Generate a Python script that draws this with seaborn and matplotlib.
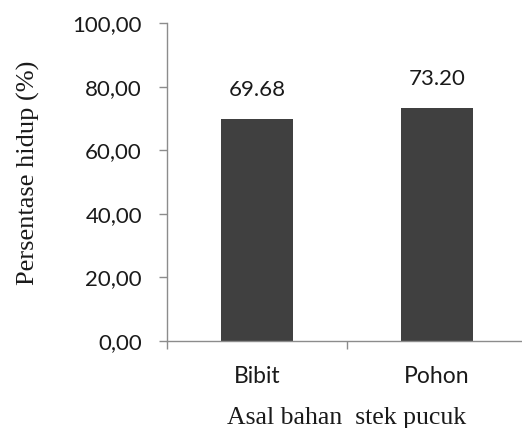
import matplotlib
matplotlib.use("Agg")
import matplotlib.pyplot as plt
import seaborn as sns
import pandas as pd
from matplotlib.ticker import FixedLocator

categories = ["Bibit", "Pohon"]
values = [69.68, 73.20]
yticks = [0, 20, 40, 60, 80, 100]
ytick_labels = ["0,00", "20,00", "40,00", "60,00", "80,00", "100,00"]

df = pd.DataFrame({"asal": categories, "persen": values})

sns.set_style("white")
plt.rcParams["font.family"] = ["Lato", "DejaVu Sans"]

fig = plt.figure(figsize=(5.22, 4.28), dpi=100)
# plotting area: x 167..527 px, y 23..341 px
ax = fig.add_axes([167 / 522, (428 - 341) / 428, 360 / 522, (341 - 23) / 428])

sns.barplot(data=df, x="asal", y="persen", color="#404040", width=0.4,
            saturation=1, ax=ax, edgecolor="none")

ax.set_xlim(-0.5, 1.5)
ax.set_ylim(0, 100)
ax.set_yticks(yticks)
ax.set_yticklabels(ytick_labels)

for s in ["top", "right"]:
    ax.spines[s].set_visible(False)
for s in ["left", "bottom"]:
    ax.spines[s].set_color("#8c8c8c")
    ax.spines[s].set_linewidth(1.0)

ax.tick_params(axis="y", direction="out", length=6, width=1.0, color="#8c8c8c",
               labelsize=16, labelcolor="#1a1a1a", pad=12, left=True)
ax.tick_params(axis="x", which="major", length=0, labelsize=16.5,
               labelcolor="#1a1a1a", pad=18)
ax.xaxis.set_minor_locator(FixedLocator([-0.5, 0.5, 1.5]))
ax.tick_params(axis="x", which="minor", direction="out", length=6, width=1.0,
               color="#8c8c8c", bottom=True)

for i, v in enumerate(values):
    ax.annotate(f"{v:.2f}", (i, v), xytext=(0, 21), textcoords="offset points",
                ha="center", va="center", fontsize=16, color="#1a1a1a")

serif = ["Liberation Serif", "DejaVu Serif"]
ax.set_ylabel("Persentase hidup (%)", fontsize=19, family=serif,
              color="#1a1a1a", va="center", ha="center")
ax.yaxis.set_label_coords(-0.384, 0.528)
ax.set_xlabel("Asal bahan  stek pucuk", fontsize=18.5, family=serif,
              color="#1a1a1a", va="center", ha="center")
ax.xaxis.set_label_coords(0.5, -0.243)

fig.savefig("out.png", dpi=100, facecolor="white")
